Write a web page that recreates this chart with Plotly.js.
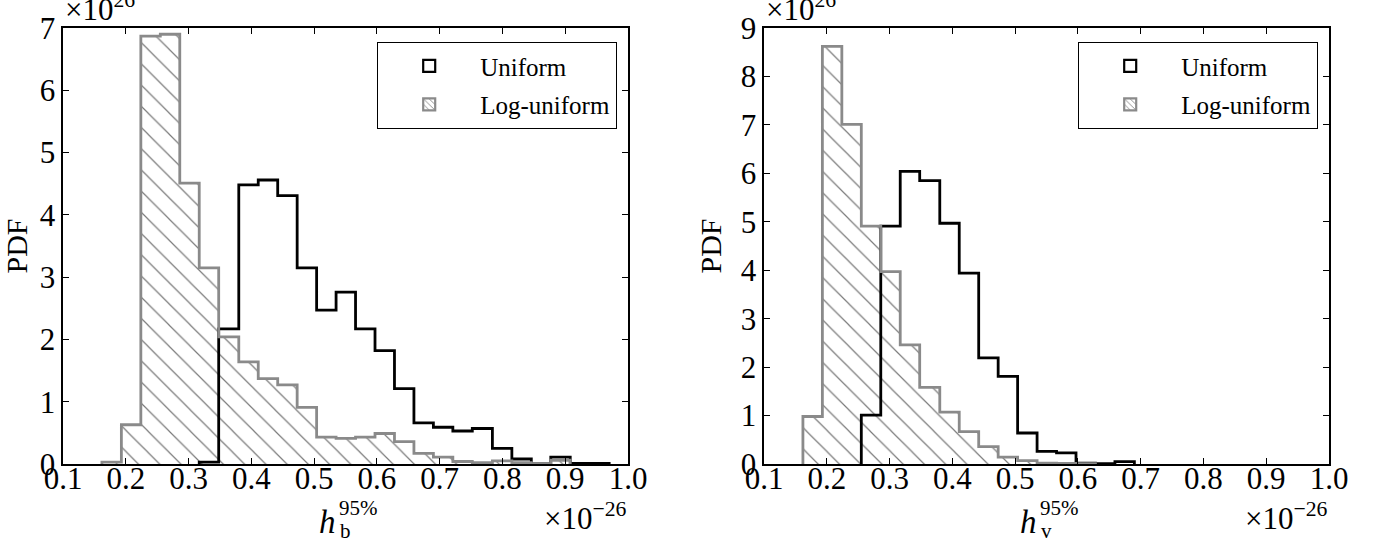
<!DOCTYPE html>
<html>
<head>
<meta charset="utf-8">
<script src="https://cdn.plot.ly/plotly-3.0.1.min.js"></script>
<style>
html,body{margin:0;padding:0;background:#fff;}
#chart{width:1384px;height:541px;}
</style>
</head>
<body>
<div id="chart"></div>
<script>
// Histogram bin edges (units of 1e-26), shared by both panels
const binEdges = [0.162,0.193,0.224,0.255,0.286,0.317,0.348,0.380,0.411,0.442,0.473,0.504,0.535,0.566,0.597,0.628,0.659,0.690,0.721,0.752,0.784,0.815,0.846,0.877,0.908,0.939,0.970];

// Left panel: h_b^95%  (PDF, units of 1e26)
const leftUniform    = [0,0,0,0,0,0.03,2.17,4.48,4.56,4.31,3.15,2.47,2.76,2.17,1.82,1.21,0.66,0.59,0.53,0.57,0.25,0.08,0,0.11,0.01,0.01];
const leftLogUniform = [0.03,0.63,6.87,6.90,4.51,3.15,2.04,1.64,1.37,1.27,0.91,0.43,0.41,0.43,0.49,0.36,0.17,0.11,0.04,0.02,0.05,0.02,0,0.06,0,0];

// Right panel: h_v^95%
const rightUniform    = [0,0,0,1.01,4.91,6.04,5.85,4.97,3.94,2.19,1.81,0.64,0.26,0.23,0.02,0.005,0.05,0,0,0,0,0,0,0,0,0];
const rightLogUniform = [0.98,8.62,7.01,4.91,3.97,2.46,1.58,1.07,0.67,0.36,0.14,0.07,0.02,0.01,0.005,0,0,0,0,0,0,0,0,0,0,0];

const xTicks = [0.1,0.2,0.3,0.4,0.5,0.6,0.7,0.8,0.9,1.0];
const seriesNames = ['Uniform','Log-uniform'];

const FONT = 'Liberation Serif';
const GREY = '#8a8a8a';
const HATCH = '#7a7a7a';

const centers = binEdges.slice(0,-1).map((e,i)=> (e+binEdges[i+1])/2);
const widths  = binEdges.slice(0,-1).map((e,i)=> binEdges[i+1]-e);

// step outline spanning the bins from first to last non-empty one
function stepXY(vals){
  let a=0, b=vals.length-1;
  while(a<b && vals[a]===0) a++;
  while(b>a && vals[b]===0) b--;
  const x=[binEdges[a]], y=[0];
  for(let i=a;i<=b;i++){ x.push(binEdges[i]); y.push(vals[i]); }
  x.push(binEdges[b+1]); y.push(0);
  return {x,y};
}

function hatchBars(vals, xa, ya){
  return {type:'bar', x:centers, y:vals, width:widths, xaxis:xa, yaxis:ya,
    marker:{color:'rgba(255,255,255,0)', line:{width:0},
      pattern:{shape:'\\', fgcolor:HATCH, bgcolor:'rgba(255,255,255,0)', size:15, solidity:0.08}},
    showlegend:false, hoverinfo:'skip'};
}
function stepLine(vals, xa, ya, color){
  const s = stepXY(vals);
  return {type:'scatter', mode:'lines', x:s.x, y:s.y, xaxis:xa, yaxis:ya,
    line:{shape:'hv', color:color, width:2.8}, showlegend:false, hoverinfo:'skip'};
}
function legendItems(xa, ya, lg){
  return [
    {type:'bar', x:[null], y:[null], xaxis:xa, yaxis:ya, name:seriesNames[0], legend:lg, legendgroup:lg+'a',
      marker:{color:'white', line:{color:'black', width:2.2}}, showlegend:true, hoverinfo:'skip'},
    {type:'bar', x:[null], y:[null], xaxis:xa, yaxis:ya, name:seriesNames[1], legend:lg, legendgroup:lg+'b',
      marker:{color:'white', line:{color:GREY, width:2.2},
        pattern:{shape:'\\', fgcolor:HATCH, bgcolor:'white', size:5, solidity:0.2}}, showlegend:true, hoverinfo:'skip'}
  ];
}

const data = [
  hatchBars(leftLogUniform,'x','y'),
  stepLine(leftUniform,'x','y','black'),
  stepLine(leftLogUniform,'x','y',GREY),
  hatchBars(rightLogUniform,'x2','y2'),
  stepLine(rightUniform,'x2','y2','black'),
  stepLine(rightLogUniform,'x2','y2',GREY),
  ...legendItems('x','y','legend'),
  ...legendItems('x2','y2','legend2')
];

const W=1384, H=541;
const px = v=>v/W, py = v=>1-v/H;

function xaxis(d0,d1,anchor){
  return {domain:[px(d0),px(d1)], anchor:anchor, range:[0.1,1.0], tickvals:xTicks, tickformat:'.1f',
    ticks:'inside', ticklen:6, tickwidth:1.2, tickcolor:'black', showline:true, linecolor:'black', linewidth:1.6,
    mirror:'ticks', showgrid:false, zeroline:false, ticklabelstandoff:-14,
    tickfont:{size:31, family:FONT, color:'black'}};
}
function yaxis(top,anchor,title){
  return {domain:[py(464),py(28)], anchor:anchor, range:[0,top], dtick:1, tick0:0,
    ticks:'inside', ticklen:6, tickwidth:1.2, tickcolor:'black', showline:true, linecolor:'black', linewidth:1.6,
    mirror:'ticks', showgrid:false, zeroline:false, tickfont:{size:31, family:FONT, color:'black'},
    title:{text:title, font:{size:30, family:FONT, color:'black'}, standoff:10}};
}

function legendBox(xRight){
  return {x:px(xRight), xanchor:'right', y:py(42), yanchor:'top', bgcolor:'white', bordercolor:'black', borderwidth:1.2,
    font:{size:25, family:FONT, color:'black'}, tracegroupgap:3, itemwidth:92};
}

function axTitle(cx, sub){
  return [
    {text:'<i>h</i>', xref:'paper', yref:'paper', x:px(cx+2), xanchor:'right', y:py(522), yanchor:'middle', showarrow:false, font:{size:33, family:FONT, color:'black'}},
    {text:'95%', xref:'paper', yref:'paper', x:px(cx+1), xanchor:'left', y:py(508), yanchor:'middle', showarrow:false, font:{size:21, family:FONT, color:'black'}},
    {text:sub, xref:'paper', yref:'paper', x:px(cx+2), xanchor:'left', y:py(531), yanchor:'middle', showarrow:false, font:{size:21, family:FONT, color:'black'}}
  ];
}
function scaleNotes(x0, x1){
  return [
    {text:'×10<sup>26</sup>', xref:'paper', yref:'paper', x:px(x0), xanchor:'left', y:py(29), yanchor:'bottom', showarrow:false, font:{size:31, family:FONT, color:'black'}},
    {text:'×10<sup>−26</sup>', xref:'paper', yref:'paper', x:px(x1+1), xanchor:'right', y:py(516), yanchor:'middle', showarrow:false, font:{size:31, family:FONT, color:'black'}}
  ];
}

const layout = {
  width:W, height:H, margin:{l:0,r:0,t:0,b:0}, paper_bgcolor:'white', plot_bgcolor:'white',
  font:{family:FONT, color:'black', size:26}, barmode:'overlay', bargap:0,
  xaxis:xaxis(63,628,'y'), yaxis:yaxis(7,'x','PDF'),
  xaxis2:xaxis(764,1329,'y2'), yaxis2:yaxis(9,'x2','PDF'),
  legend:legendBox(617), legend2:legendBox(1318),
  annotations:[...axTitle(336,'b'), ...axTitle(1037,'v'), ...scaleNotes(63,628), ...scaleNotes(764,1329)]
};

Plotly.newPlot('chart', data, layout, {staticPlot:true});
</script>
</body>
</html>
